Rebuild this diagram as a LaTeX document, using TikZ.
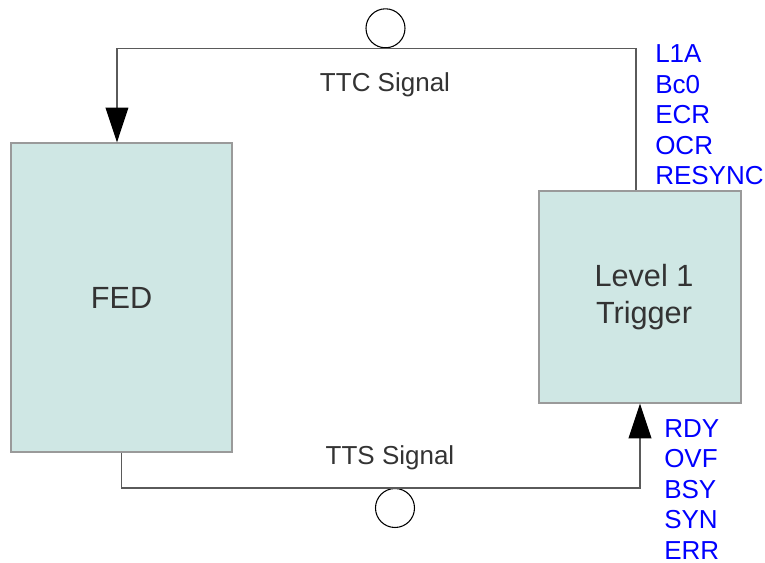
\documentclass[tikz,border=0pt]{standalone}
\usepackage{fontspec}
\setmainfont{Liberation Sans}
\usetikzlibrary{arrows.meta,positioning}
\definecolor{boxfill}{HTML}{CFE7E4}
\definecolor{boxline}{HTML}{9A9A9A}
\definecolor{wire}{HTML}{5A5A5A}
\definecolor{txt}{HTML}{333333}
\begin{document}
\begin{tikzpicture}[x=0.75pt, y=-0.75pt,
    block/.style={rectangle, draw=boxline, fill=boxfill, line width=0.9pt, text=txt, align=center, font=\fontsize{23}{28}\selectfont},
    ring/.style={circle, draw=black, fill=white, line width=0.8pt, minimum size=29.25pt, inner sep=0pt},
    signal/.style={text=txt, font=\fontsize{19.5}{23}\selectfont},
    code/.style={text=blue, anchor=base west, inner sep=0pt, font=\fontsize{19.5}{23}\selectfont},
    wireline/.style={draw=wire, line width=1pt, -{Triangle[length=26pt, width=17pt, color=black]}}]

\useasboundingbox (0,0) rectangle (765,563);

% Nodes
\node [block, minimum width=165.75pt, minimum height=231.75pt] (fed) at (121.5,297.5) {FED};
\node [block, minimum width=151.5pt, minimum height=159pt] (trigger) at (640,297) {\raisebox{-2.5pt}{\hspace{6pt}Level 1}\\\raisebox{-2.5pt}{\hspace{6pt}Trigger}};
\node [ring] (ttcring) at (385.5,28.3) {};
\node [ring] (ttsring) at (395,508) {};
\node [signal] (ttclabel) at (385,84.5) {TTC Signal};
\node [signal] (ttslabel) at (390,458) {TTS Signal};

% Signal names
\foreach \name [count=\i] in {L1A, Bc0, ECR, OCR, RESYNC}
    \node [code] (ttc\i) at (655, 63+30.5*\i-30.5) {\name};
\foreach \name [count=\i] in {RDY, OVF, BSY, SYN, ERR}
    \node [code] (tts\i) at (664, 437+30.5*\i-30.5) {\name};

% Arrows
\draw[wireline] ([xshift=-3pt]trigger.north) |- (ttcring.south) -| ([xshift=-3.4pt]fed.north);
\draw[wireline] (fed.south) |- (ttsring.north) -| (trigger.south);

\end{tikzpicture}
\end{document}
